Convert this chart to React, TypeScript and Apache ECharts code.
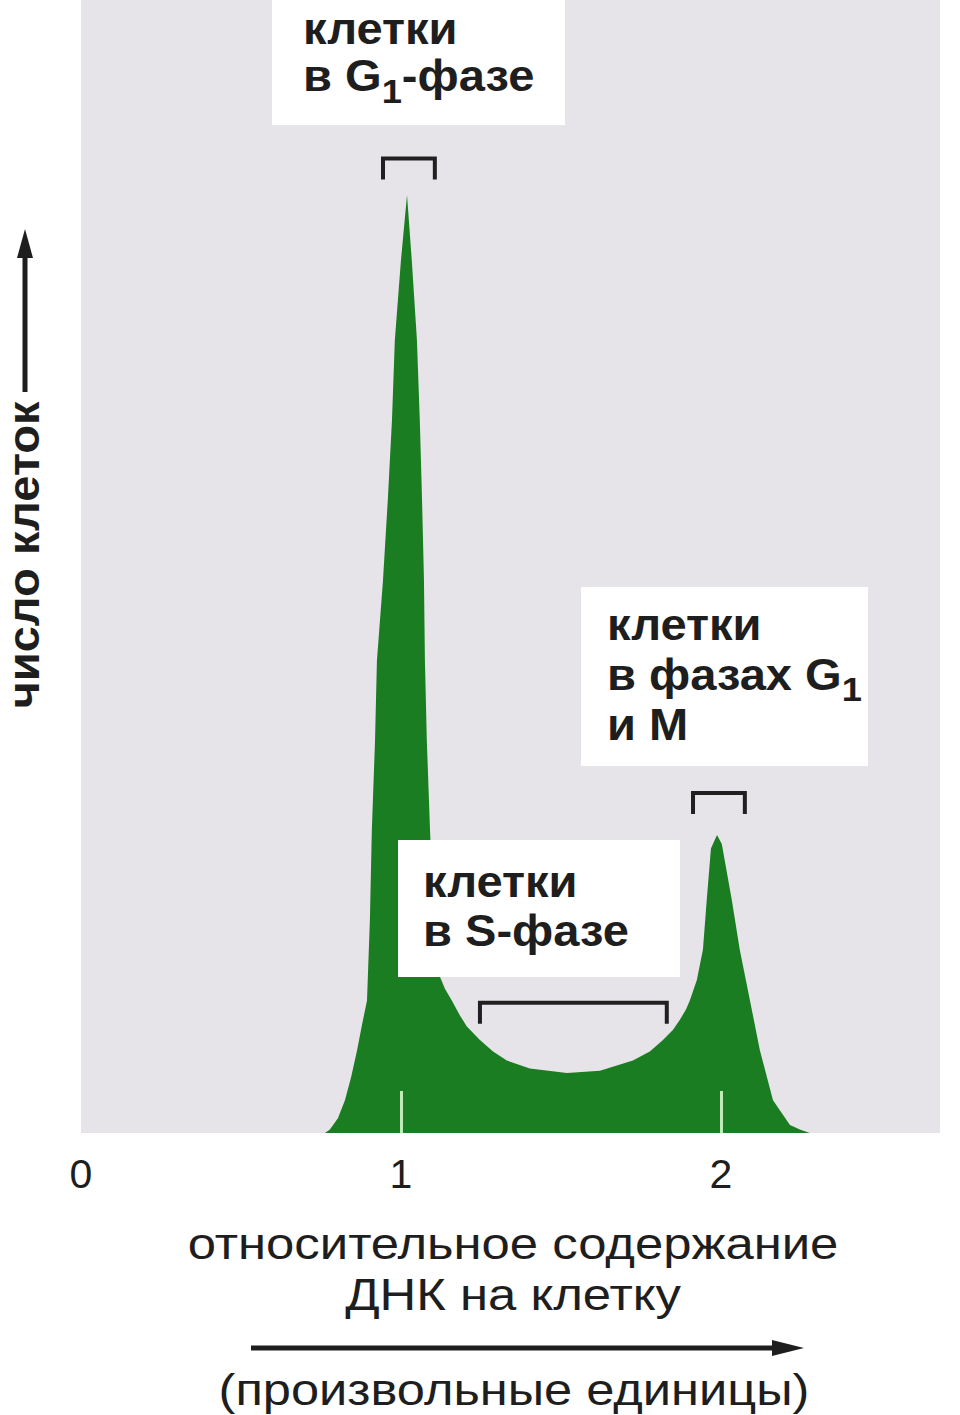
import React, { useEffect, useRef } from "react";
import * as echarts from "echarts";

// relative DNA content per cell (arbitrary units)
const dnaContent = [
  0.7625, 0.778, 0.803, 0.825, 0.844, 0.863, 0.878, 0.894, 0.903, 0.909, 0.919, 0.925, 0.944, 0.959, 0.972, 0.981, 1.0, 1.019,
  1.034, 1.05, 1.059, 1.066, 1.072, 1.075, 1.081, 1.091, 1.1, 1.109, 1.122, 1.138, 1.159, 1.184, 1.206, 1.247, 1.288, 1.331,
  1.403, 1.519, 1.622, 1.725, 1.778, 1.819, 1.85, 1.872, 1.891, 1.903, 1.925, 1.944, 1.956, 1.969, 1.988, 2.003, 2.034,
  2.059, 2.091, 2.122, 2.163, 2.216, 2.247, 2.278,
];
// number of cells (relative)
const cellCount = [
  0, 0.3, 1.3, 2.9, 4.9, 7.3, 9.5, 11.7, 18.8, 26.7, 34.6, 41.7, 48.8, 55.9, 62.9, 70.0, 77.0, 82.8,
  77.0, 70.0, 62.9, 55.9, 48.8, 41.7, 34.6, 26.7, 20.6, 16.2, 13.8, 12.7, 11.7, 10.4, 9.4, 8.2, 7.2, 6.4,
  5.7, 5.3, 5.5, 6.4, 7.2, 8.2, 9.1, 10.0, 10.9, 11.7, 13.5, 16.2, 20.6, 25.1, 26.3, 25.5, 20.6,
  16.2, 11.7, 7.3, 2.9, 0.7, 0.3, 0,
];
const tickLabels = [0, 1, 2];
const tickMarks = [1, 2];
// brackets marking phase ranges: [from, to, top value]
const bracketFrom = [0.944, 1.247, 1.913];
const bracketTo = [1.106, 1.831, 2.075];
const bracketTop = [86.0, 11.5, 30.0];

const FONT = '"Liberation Sans", Arial, Helvetica, sans-serif';
const GREEN = "#1a7d22";
const INK = "#1e1e1e";

export default function App() {
  const ref = useRef<HTMLDivElement>(null);

  useEffect(() => {
    const chart = echarts.init(ref.current as HTMLDivElement, null, { renderer: "svg" });
    const seriesData = dnaContent.map((x, i) => [x, cellCount[i]]);
    chart.setOption({
      animation: false,
      grid: {
        left: 81,
        top: 0,
        width: 859,
        bottom: 282,
        show: true,
        backgroundColor: "#e7e4e9",
        borderWidth: 0,
      },
      xAxis: {
        type: "value",
        min: 0,
        max: 2.685,
        interval: 1,
        z: 10,
        splitLine: { show: false },
        axisLine: { show: false },
        axisTick: {
          show: true,
          inside: true,
          length: 42,
          customValues: tickMarks,
          lineStyle: { color: "#bfe9b6", width: 3 },
        },
        axisLabel: {
          customValues: tickLabels,
          margin: 20,
          fontSize: 41,
          fontFamily: FONT,
          color: INK,
        },
      },
      yAxis: {
        type: "value",
        min: 0,
        max: 100,
        show: false,
        splitLine: { show: false },
      },
      series: [
        {
          type: "line",
          data: seriesData,
          showSymbol: false,
          smooth: false,
          lineStyle: { width: 0, color: GREEN },
          areaStyle: { color: GREEN, opacity: 1 },
          z: 2,
        },
      ],
    });

    const bracketEls = bracketFrom.map((from, i) => {
      const p0 = chart.convertToPixel({ gridIndex: 0 }, [from, bracketTop[i]]) as number[];
      const p1 = chart.convertToPixel({ gridIndex: 0 }, [bracketTo[i], bracketTop[i]]) as number[];
      const leg = 21;
      return {
        type: "polyline",
        z: 120,
        shape: {
          points: [
            [p0[0], p0[1] + leg],
            [p0[0], p0[1]],
            [p1[0], p0[1]],
            [p1[0], p0[1] + leg],
          ],
        },
        style: { stroke: "#202020", lineWidth: 4, fill: null },
      };
    });

    const labelStyle = (text: string, x: number, y: number, lh: number) => ({
      type: "text",
      z: 130,
      x,
      y,
      scaleX: 1.07,
      style: {
        text,
        fontSize: 44,
        fontFamily: FONT,
        fontWeight: "bold",
        fill: INK,
        lineHeight: lh,
        align: "left",
        verticalAlign: "top",
        rich: {
          s: {
            fontSize: 34,
            fontFamily: FONT,
            fontWeight: "bold",
            fill: INK,
            lineHeight: lh,
            padding: [28, 0, 0, 0],
          },
        },
      },
    });

    chart.setOption({
      graphic: [
        // label boxes
        { type: "rect", z: 110, shape: { x: 272, y: 0, width: 293, height: 125 }, style: { fill: "#ffffff" } },
        { type: "rect", z: 110, shape: { x: 581, y: 587, width: 287, height: 179 }, style: { fill: "#ffffff" } },
        { type: "rect", z: 110, shape: { x: 398, y: 840, width: 282, height: 137 }, style: { fill: "#ffffff" } },
        labelStyle("клетки\nв G{s|1}-фазе", 303, 6, 47),
        labelStyle("клетки\nв фазах G{s|1}\nи М", 607, 600, 50),
        labelStyle("клетки\nв S-фазе", 423, 858, 49),
        ...bracketEls,
        // y-axis title with arrow
        {
          type: "text",
          z: 130,
          x: 24,
          y: 555,
          rotation: Math.PI / 2,
          scaleX: 1.07,
          style: {
            text: "число клеток",
            fontSize: 44,
            fontFamily: FONT,
            fontWeight: "bold",
            fill: INK,
            align: "center",
            verticalAlign: "middle",
          },
        },
        { type: "line", z: 130, shape: { x1: 25, y1: 392, x2: 25, y2: 252 }, style: { stroke: INK, lineWidth: 5 } },
        { type: "polygon", z: 130, shape: { points: [[25, 229], [17, 258], [33, 258]] }, style: { fill: INK } },
        // x-axis title
        {
          type: "text",
          z: 130,
          x: 513,
          y: 1218,
          scaleX: 1.155,
          style: {
            text: "относительное содержание\nДНК на клетку",
            fontSize: 44,
            fontFamily: FONT,
            fill: INK,
            lineHeight: 51,
            align: "center",
            verticalAlign: "top",
          },
        },
        { type: "line", z: 130, shape: { x1: 251, y1: 1348, x2: 780, y2: 1348 }, style: { stroke: INK, lineWidth: 5 } },
        { type: "polygon", z: 130, shape: { points: [[804, 1348], [772, 1340], [772, 1356]] }, style: { fill: INK } },
        {
          type: "text",
          z: 130,
          x: 514,
          y: 1390,
          scaleX: 1.15,
          style: {
            text: "(произвольные единицы)",
            fontSize: 44,
            fontFamily: FONT,
            fill: INK,
            align: "center",
            verticalAlign: "middle",
          },
        },
      ],
    });

    return () => chart.dispose();
  }, []);

  return (
    <div
      ref={ref}
      style={{ position: "absolute", left: 0, top: 0, width: 960, height: 1415, background: "#ffffff" }}
    />
  );
}
